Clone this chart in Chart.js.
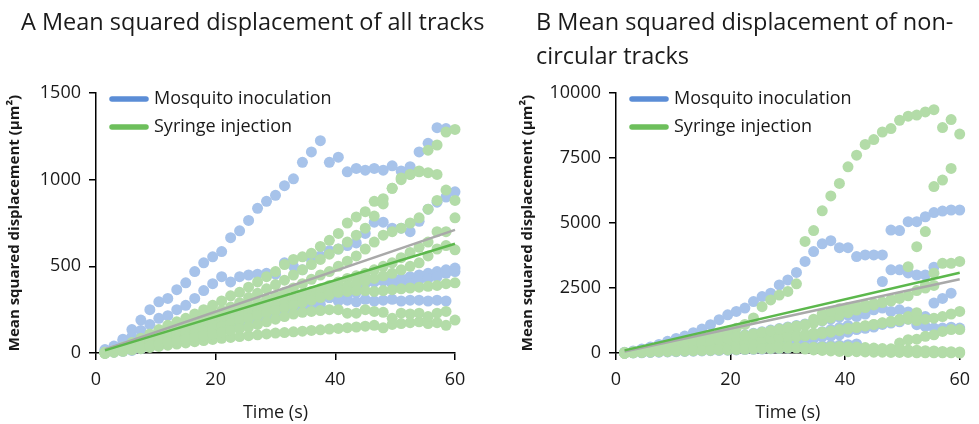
<!DOCTYPE html>
<html>
<head>
<meta charset="utf-8">
<script src="https://cdn.jsdelivr.net/npm/chart.js@4.4.1/dist/chart.umd.min.js"></script>
<style>
  body { margin: 0; background: #fff; }
  #wrap { position: relative; width: 979px; height: 424px; }
  .panel { position: absolute; top: 0; height: 424px; }
  .title { position: absolute; z-index: 2; font-family: "Open Sans", sans-serif; font-size: 23.5px; line-height: 34px; color: #1a1a1a; white-space: nowrap; }
</style>
</head>
<body>
<div id="wrap">
  <div class="title" style="left:21px; top:4px;">A Mean squared displacement of all tracks</div>
  <div class="title" style="left:536px; top:4px;">B Mean squared displacement of non-<br>circular tracks</div>
  <div class="panel" style="left:0; width:490px;"><canvas id="chartAll"></canvas></div>
  <div class="panel" style="left:490px; width:489px;"><canvas id="chartNonCirc"></canvas></div>
</div>
<script>
// Data

var seconds = [1.5, 3, 4.5, 6, 7.5, 9, 10.5, 12, 13.5, 15,
               16.5, 18, 19.5, 21, 22.5, 24, 25.5, 27, 28.5, 30,
               31.5, 33, 34.5, 36, 37.5, 39, 40.5, 42, 43.5, 45,
               46.5, 48, 49.5, 51, 52.5, 54, 55.5, 57, 58.5, 60];

// A: all tracks (um^2), one row per track, one value per time point
var allMosquito = [
    [15, 30, 80, 135, 190, 250, 295, 315, 365, 405, 470, 520, 555, 585, 665, 705, 765, 835, 875, 910,
     965, 1005, 1100, 1160, 1225, 1100, 1130, 1045, 1065, 1055, 1065, 1055, 1080, 1050, 1075, 1160, 1210, 1300, 1295, null],
    [20, 40, 70, 95, 130, 165, 200, 215, 250, 275, 315, 360, 400, 440, 410, 440, 450, 455, 460, 455,
     520, 500, 480, 540, 560, 590, 600, 620, 635, 690, 755, 755, 720, 720, 700, 760, 830, 870, 900, 930],
    [5, 15, 30, 50, 70, 90, 110, 125, 140, 150, 160, 170, 185, 195, 205, 215, 225, 240, 255, 265,
     280, 300, 310, 320, 325, 320, 300, 305, 295, 310, 300, 305, 310, 300, 305, 305, 300, 305, 300, null],
    [10, 20, 30, 45, 55, 70, 80, 95, 110, 125, 135, 150, 160, 170, 185, 200, 215, 230, 250, 265,
     280, 300, 320, 330, 345, 350, 360, 370, 390, 400, 410, 415, 420, 430, 440, 450, 460, 470, 480, 490],
    [0, 5, 10, 15, 25, 40, 55, 70, 85, 100, 110, 125, 140, 155, 165, 175, 190, 200, 205, 215,
     230, 245, 260, 270, 280, 320, 340, 330, 350, 420, 410, 420, 400, 410, 400, 420, 430, 440, 460, 470]
];
var allSyringe = [
    [5, 15, 35, 60, 85, 110, 135, 160, 180, 200, 225, 250, 275, 300, 330, 350, 380, 410, 440, 470,
     510, 540, 555, 575, 615, 650, 690, 750, 785, 815, 875, 890, 950, 1000, 1030, 1050, 1170, 1200, 1275, 1290],
    [0, 10, 25, 45, 65, 85, 105, 125, 145, 165, 185, 205, 225, 245, 265, 290, 320, 345, 370, 395,
     420, 450, 480, 510, 540, 570, 600, 640, 680, 720, 790, 860, 950, 1010, 1030, 1045, 1040, 1030, null, null],
    [0, 10, 20, 35, 50, 65, 80, 95, 110, 125, 140, 160, 180, 200, 220, 245, 270, 290, 310, 330,
     350, 375, 400, 425, 450, 470, 500, 530, 560, 600, 640, 680, 700, 720, 750, 780, 830, 880, 940, 880],
    [0, 8, 18, 30, 45, 60, 75, 90, 105, 120, 135, 150, 165, 180, 195, 210, 230, 250, 265, 280,
     300, 320, 340, 355, 370, 390, 410, 430, 445, 460, 480, 500, 520, 550, 580, 610, 640, 700, 700, 780],
    [0, 10, 20, 30, 40, 55, 70, 85, 100, 115, 130, 145, 160, 175, 190, 205, 220, 235, 250, 265,
     280, 295, 310, 325, 340, 355, 370, 385, 400, 415, 430, 445, 460, 480, 500, 520, 560, 600, 620, 595],
    [0, 8, 15, 25, 35, 45, 55, 65, 80, 95, 110, 125, 140, 155, 170, 185, 200, 215, 230, 245,
     260, 275, 290, 305, 320, 335, 350, 355, 360, 360, 355, 360, 365, 370, 375, 380, 385, 390, 400, 405],
    [0, 5, 10, 18, 25, 32, 38, 45, 52, 58, 65, 72, 78, 85, 90, 95, 100, 105, 110, 115,
     118, 122, 126, 130, 134, 138, 142, 146, 150, 155, 160, 145, 165, 170, 175, 180, 170, 175, 160, 190],
    [0, 5, 12, 20, 30, 40, 50, 60, 70, 80, 90, 100, 110, 120, 130, 140, 150, 165, 180, 195,
     210, 225, 235, 240, 245, 250, 250, 230, 230, 250, 240, 235, 200, 230, 225, 230, 210, 230, 240, null]
];

// B: non-circular tracks (um^2)
var nonCircMosquito = [
    [30, 80, 150, 230, 330, 450, 560, 650, 780, 920, 1090, 1280, 1470, 1600, 1730, 1980, 2170, 2300, 2620, 2810,
     3100, 3520, 3900, 4200, 4320, 4050, 4050, 3710, 3770, 3770, 3770, 4730, 4710, 5050, 5050, 5240, 5400, 5460, 5500, 5500],
    [10, 30, 60, 100, 140, 190, 240, 290, 340, 400, 460, 520, 580, 640, 700, 760, 820, 880, 940, 1000,
     1060, 1120, 1180, 1240, 1300, 1380, 1460, 1540, 1620, 1700, 2750, 3200, 3200, 3080, 3000, 3000, 3300, null, null, null],
    [5, 20, 40, 60, 85, 110, 140, 170, 200, 235, 270, 305, 340, 380, 420, 460, 500, 540, 580, 620,
     660, 700, 750, 820, 900, 980, 1060, 1400, 1500, 1660, 1730, 1600, 1660, 1580, 1090, 1020, 960, 960, 990, 960],
    [0, 10, 20, 35, 50, 70, 90, 110, 130, 150, 175, 200, 225, 250, 275, 300, 330, 360, 390, 420,
     450, 500, 560, 620, 650, 700, 800, 900, 950, 1000, 1100, 1150, 1200, 1300, 1350, 1400, 1920, 2100, 2300, null],
    [0, 5, 10, 20, 30, 40, 50, 60, 70, 80, 90, 100, 110, 120, 130, 140, 150, 160, 170, 190,
     210, 230, 250, 270, 290, 300, 320, 350]
];
var nonCircSyringe = [
    [20, 50, 90, 140, 200, 260, 330, 400, 480, 560, 650, 740, 840, 950, 1100, 1350, 1780, 2040, 2230, 2370,
     2660, 4290, 4710, 5470, 6040, 6520, 7160, 7610, 8020, 8210, 8500, 8630, 8950, 9110, 9150, 9270, 9360, 8670, 8980, 8420],
    [0, 15, 35, 60, 90, 120, 160, 200, 250, 300, 350, 400, 460, 520, 580, 640, 700, 760, 830, 900,
     980, 1060, 1150, 1250, 1350, 1450, 1550, 1650, 1750, 1850, 1950, 2050, 2150, 3320, 4090, 4670, 6400, 6650, 7100, null],
    [0, 10, 25, 45, 65, 90, 115, 140, 170, 200, 230, 260, 300, 340, 380, 420, 460, 500, 540, 580,
     620, 660, 700, 750, 800, 860, 920, 980, 1040, 1100, 1160, 1220, 1300, 1400, 1550, 2600, 3070, 3450, 3450, 3520],
    [10, 30, 50, 70, 90, 110, 130, 150, 170, 190, 210, 230, 250, 270, 290, 300, 290, 280, 260, 240,
     220, 200, 180, 160, 140, 120, 110, 100, 90, 80, 80, 70, 380, 510, 530, 640, 700, 830, 900, 900],
    [0, 20, 40, 60, 80, 100, 120, 140, 160, 180, 200, 220, 240, 260, 280, 300, 320, 340, 300, 250,
     200, 150, 120, 100, 80, 60, 50, 50, 40, 30, 30, 20, 20, 20, 10, 10, 10, 10, 10, 0],
    [0, 20, 40, 60, 90, 120, 150, 180, 210, 240, 280, 320, 360, 400, 440, 480, 520, 560, 600, 640,
     680, 720, 760, 800, 850, 900, 950, 1000, 1050, 1100, 1150, 1200, 1250, 1300, 1250, 1300, 1340, 1400, 1500, 1600],
    [0, 30, 70, 110, 150, 200, 250, 300, 350, 400, 450, 500, 560, 620, 680, 740, 800, 860, 920, 980,
     1040, 1100, 1300, 1500, 1600, 1700, 1750, 1800, 1850, 1900, 1950, 2000, 2100, 2200, 2400, 2500, 2600],
    [0, 10, 25, 30, 45, 50, 65, 70, 85, 95, 100, 115, 120, 135, 140, 150, 165, 170, 180, 195,
     200, 215, 220, 230, 245, 250, 240, 230, 210, 190, 170, 160, 140, 120, 110, 90, 80, 60, 50, 40]
];

// linear fits, value at first and last time
var fitTimes = [1.5, 60];
var allFitMosquito = [20, 710];
var allFitSyringe = [15, 630];
var nonCircFitMosquito = [60, 2840];
var nonCircFitSyringe = [100, 3090];

var xTicks = [0, 20, 40, 60];


// Helpers

function toPoints(tracks) {
    var pts = [];
    tracks.forEach(function (track) {
        track.forEach(function (v, i) {
            if (v !== null) pts.push({ x: seconds[i], y: v });
        });
    });
    return pts;
}

function fitPoints(values) {
    return fitTimes.map(function (t, i) { return { x: t, y: values[i] }; });
}

var insideLegend = {
    id: 'insideLegend',
    afterDatasetsDraw: function (chart) {
        var ctx = chart.ctx, area = chart.chartArea;
        var items = chart.data.datasets.filter(function (d) { return d.legendColor; })
            .sort(function (a, b) { return a.legendRank - b.legendRank; });
        ctx.save();
        items.forEach(function (d, i) {
            var y = area.top + 6 + i * 28;
            ctx.strokeStyle = d.legendColor;
            ctx.lineWidth = 5.5;
            ctx.lineCap = 'round';
            ctx.beginPath();
            ctx.moveTo(area.left + 16, y);
            ctx.lineTo(area.left + 50, y);
            ctx.stroke();
            ctx.fillStyle = '#1a1a1a';
            ctx.font = '18px "Open Sans"';
            ctx.textBaseline = 'middle';
            ctx.fillText(d.label, area.left + 58, y);
        });
        ctx.restore();
    }
};


// Methods

function init(id, mosquito, syringe, fitMosq, fitSyr, yMax, yStep, yWidth, padRight, yTitlePad) {
    var dotStyle = { pointRadius: 5.5, pointHoverRadius: 5.5, pointBorderWidth: 0, showLine: false, clip: false };
    return new Chart(document.getElementById(id), {
        type: 'scatter',
        data: {
            datasets: [
                { label: 'fit syringe', data: fitPoints(fitSyr), showLine: true, borderColor: '#5cb84c',
                  borderWidth: 2.5, pointRadius: 0, clip: false },
                { label: 'fit mosquito', data: fitPoints(fitMosq), showLine: true, borderColor: '#a9a9a9',
                  borderWidth: 2.5, pointRadius: 0, clip: false },
                Object.assign({ label: 'Syringe injection', data: toPoints(syringe), backgroundColor: '#b3dca8',
                  legendColor: '#6dbf5c', legendRank: 2 }, dotStyle),
                Object.assign({ label: 'Mosquito inoculation', data: toPoints(mosquito), backgroundColor: '#a7c3ea',
                  legendColor: '#5b8dd6', legendRank: 1 }, dotStyle)
            ]
        },
        options: {
            responsive: true,
            maintainAspectRatio: false,
            animation: false,
            layout: { padding: { left: 0, right: padRight, top: 93, bottom: 0 } },
            plugins: { legend: { display: false }, tooltip: { enabled: false } },
            scales: {
                x: {
                    min: 0, max: 60,
                    afterBuildTicks: function (s) { s.ticks = xTicks.map(function (v) { return { value: v }; }); },
                    afterFit: function (s) { s.height = 71; },
                    ticks: { color: '#1a1a1a', font: { family: 'Open Sans', size: 18 }, padding: 9, maxRotation: 0,
                             callback: function (v) { return String(v); } },
                    grid: { drawOnChartArea: false, drawTicks: true, tickLength: 7, color: '#000', lineWidth: 1.5 },
                    border: { color: '#000', width: 1.5 },
                    title: { display: true, text: 'Time (s)', color: '#1a1a1a',
                             font: { family: 'Open Sans', size: 18 }, padding: { top: 0, bottom: 0 } }
                },
                y: {
                    min: 0, max: yMax,
                    afterFit: function (s) { s.width = yWidth; },
                    ticks: { stepSize: yStep, color: '#1a1a1a', font: { family: 'Open Sans', size: 18 }, padding: 8,
                             callback: function (v) { return String(v); } },
                    grid: { drawOnChartArea: false, drawTicks: true, tickLength: 7, color: '#000', lineWidth: 1.5 },
                    border: { color: '#000', width: 1.5 },
                    title: { display: true, text: 'Mean squared displacement (µm²)', color: '#1a1a1a',
                             font: { family: 'Open Sans', size: 15, weight: 'bold' }, padding: { top: yTitlePad, bottom: 0 } }
                }
            }
        },
        plugins: [insideLegend]
    });
}


// Events

init('chartAll', allMosquito, allSyringe, allFitMosquito, allFitSyringe, 1500, 500, 96, 35, 6);
init('chartNonCirc', nonCircMosquito, nonCircSyringe, nonCircFitMosquito, nonCircFitSyringe, 10000, 2500, 126, 14, 29);
</script>
</body>
</html>
